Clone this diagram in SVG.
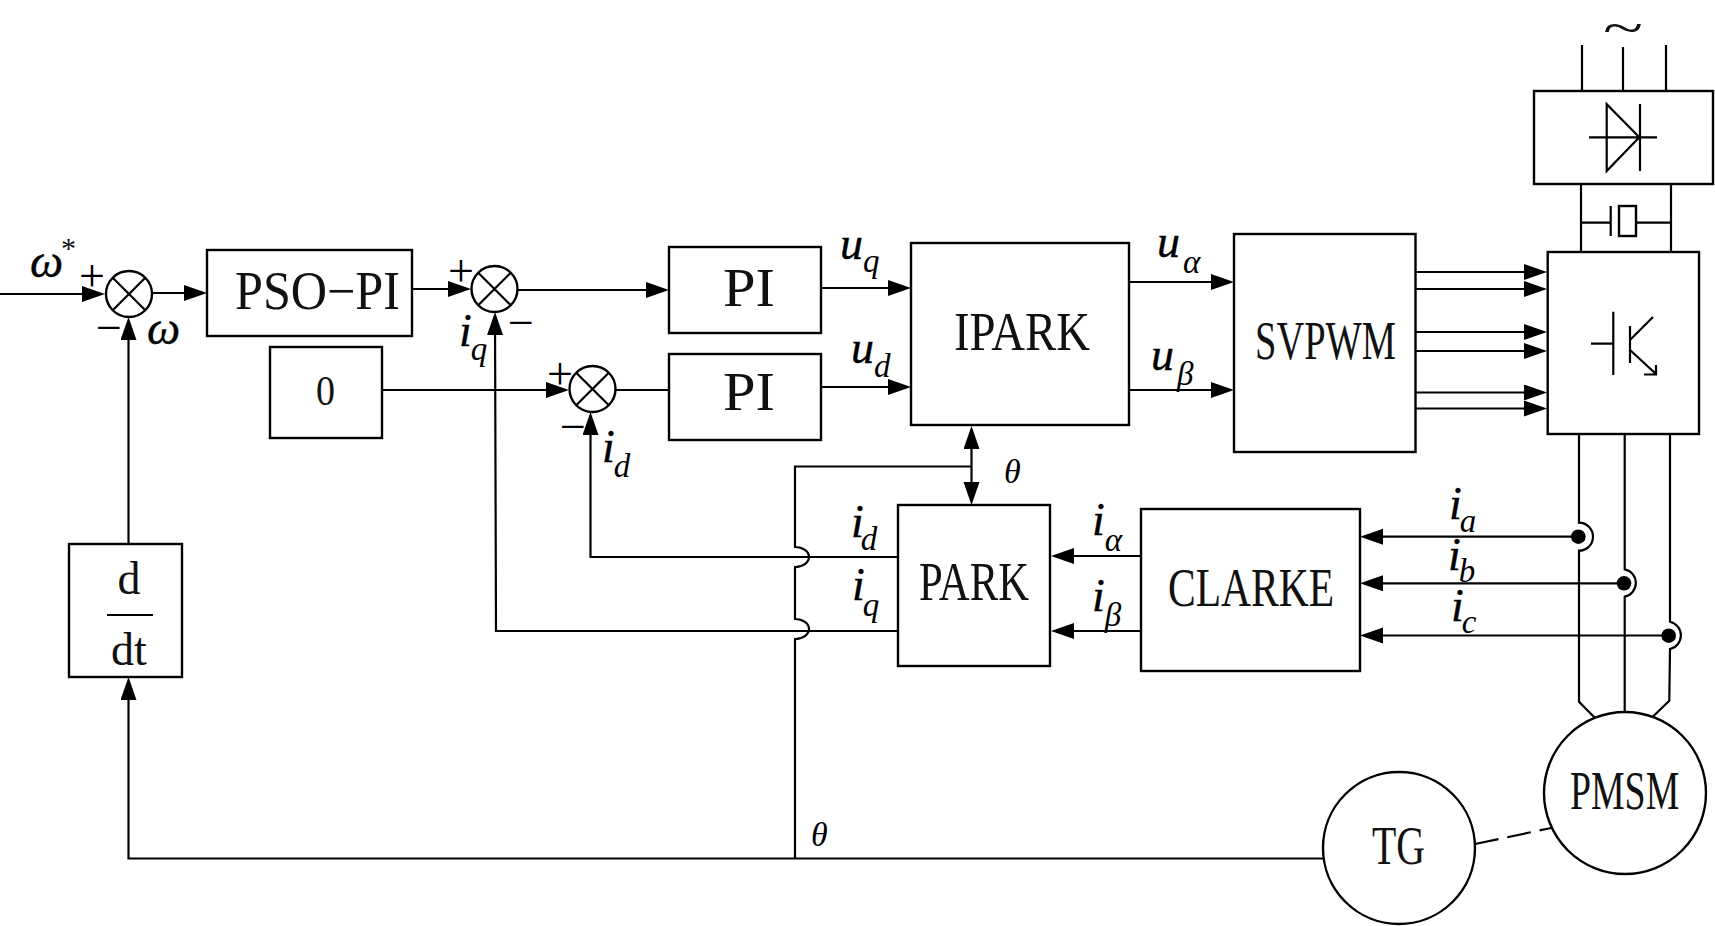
<svg xmlns="http://www.w3.org/2000/svg" width="1715" height="926" viewBox="0 0 1715 926">
<style>
rect,circle,.s{fill:#fff;stroke:#000;stroke-width:2.4}
.l,.l path,.l line,.s{fill:none;stroke:#000;stroke-width:2.2}
.t{font-family:"Liberation Serif",serif;font-size:54px;fill:#111}
.m{font-family:"Liberation Serif",serif;font-style:italic;font-size:46px;fill:#000;stroke:#000;stroke-width:.4}
.m tspan{font-size:33px;stroke-width:0}
.g{font-family:"Liberation Serif",serif;font-style:italic;font-size:34px;fill:#000}
.p{font-family:"Liberation Serif",serif;font-size:46px;fill:#000;text-anchor:middle}
.a{marker-end:url(#ah)}
.d{fill:#000;stroke:none}
</style>
<defs>
<marker id="ah" markerUnits="userSpaceOnUse" markerWidth="24" markerHeight="18" refX="19" refY="8" orient="auto"><path d="M0 0L23 8L0 16Z" fill="#000"/></marker>
</defs>
<g id="connectors" class="l">
<path class="a" d="M0 294H101"/>
<path class="a" d="M152 293H203"/>
<path class="a" d="M412 289H467"/>
<path class="a" d="M517 290H665"/>
<path class="a" d="M382 390H565"/>
<path d="M615 390H669"/>
<path class="a" d="M128.500 544V321"/>
<path class="a" d="M1323 858.500H128.500V681"/>
<path class="a" d="M898 631H496L495 316"/>
<path class="a" d="M898 557H590.500V416"/>
<path d="M795 858.500V639A14 10 0 0 0 795 619V567A14 10 0 0 0 795 547V466.500H971"/>
<path class="a" d="M971.500 466V430"/>
<path class="a" d="M971.500 466V501"/>
<path class="a" d="M821 288H907"/>
<path class="a" d="M821 387H907"/>
<path class="a" d="M1129 282H1230"/>
<path class="a" d="M1129 390H1230"/>
<path class="a" d="M1415 272H1543"/>
<path class="a" d="M1415 289H1543"/>
<path class="a" d="M1415 332H1543"/>
<path class="a" d="M1415 351H1543"/>
<path class="a" d="M1415 392.500H1543"/>
<path class="a" d="M1415 408.500H1543"/>
<path class="a" d="M1141 556H1055"/>
<path class="a" d="M1141 631H1055"/>
<path class="a" d="M1578 536.700H1364"/>
<path class="a" d="M1624 583.300H1364"/>
<path class="a" d="M1669 635.500H1364"/>
<path d="M1582 45V91M1623 47V91M1666 45V91"/>
<path d="M1581 184V252M1671 184V252M1581 222.700H1611M1636 222.700H1671"/>
<path d="M1579 434V522.700A14 14 0 0 1 1579 550.700V701.700L1595 718"/>
<path d="M1624.700 434V569.300A14 14 0 0 1 1624.700 596.700V712"/>
<path d="M1670 434V621.700A14 14 0 0 1 1670 649L1669.300 700.700L1652.700 716.700"/>
<path d="M1475 844L1551 828" stroke-dasharray="24 9"/>
<circle class="d" cx="1578.300" cy="536.700" r="7.300"/>
<circle class="d" cx="1624" cy="583.300" r="7.300"/>
<circle class="d" cx="1668.700" cy="635.700" r="7.300"/>
</g>
<g id="sum1"><circle cx="129" cy="294" r="23"/><path class="s" d="M112.700 277.700L145.300 310.300M145.300 277.700L112.700 310.300"/></g>
<g id="sum2"><circle cx="494.500" cy="289" r="23"/><path class="s" d="M478.200 272.700L510.800 305.300M510.800 272.700L478.200 305.300"/></g>
<g id="sum3"><circle cx="592.500" cy="389" r="23"/><path class="s" d="M576.200 372.700L608.800 405.300M608.800 372.700L576.200 405.300"/></g>
<g id="pso"><rect x="207" y="250" width="205" height="86"/><text class="t" x="235" y="309" textLength="165" lengthAdjust="spacingAndGlyphs">PSO−PI</text></g>
<g id="zero"><rect x="270" y="347" width="112" height="91"/><text class="t" x="316" y="405" style="font-size:42px" textLength="19" lengthAdjust="spacingAndGlyphs">0</text></g>
<g id="pi1"><rect x="669" y="247" width="152" height="86"/><text class="t" x="723" y="306" textLength="52" lengthAdjust="spacingAndGlyphs">PI</text></g>
<g id="pi2"><rect x="669" y="354" width="152" height="86"/><text class="t" x="723" y="410" textLength="52" lengthAdjust="spacingAndGlyphs">PI</text></g>
<g id="ipark"><rect x="911" y="243" width="218" height="182"/><text class="t" x="954" y="350" textLength="136" lengthAdjust="spacingAndGlyphs">IPARK</text></g>
<g id="svpwm"><rect x="1234" y="234" width="181.500" height="218"/><text class="t" x="1255" y="359" textLength="141" lengthAdjust="spacingAndGlyphs">SVPWM</text></g>
<g id="park"><rect x="898" y="505" width="152" height="161"/><text class="t" x="919" y="600" textLength="110" lengthAdjust="spacingAndGlyphs">PARK</text></g>
<g id="clarke"><rect x="1141" y="509" width="219" height="162"/><text class="t" x="1168" y="606" textLength="166" lengthAdjust="spacingAndGlyphs">CLARKE</text></g>
<g id="ddt"><rect x="69" y="544" width="113" height="133"/><text class="t" x="129" y="594" text-anchor="middle" style="font-size:46px">d</text><path class="s" d="M107 615H153"/><text class="t" x="129" y="665" text-anchor="middle" style="font-size:46px">dt</text></g>
<g id="rectifier"><rect x="1534" y="91" width="179" height="93"/><path class="s" d="M1606.700 104.300V171L1639.300 137.300ZM1640 104V171M1589 137.300H1657"/></g>
<g id="capacitor"><rect x="1619" y="206" width="17" height="30"/><path class="s" d="M1610.700 206V236"/></g>
<g id="inverter"><rect x="1547.700" y="252" width="151.300" height="182"/><path class="s" d="M1591 343.700H1613.300M1613.300 311.700V375M1630 326V363M1630 340L1653 317M1630 350L1656 374M1644 374.500H1656V365"/></g>
<g id="pmsm"><circle cx="1625" cy="793" r="81"/><text class="t" transform="translate(1570 809) scale(.7 1)">PMSM</text></g>
<g id="tg"><circle cx="1399" cy="848" r="76"/><text class="t" x="1372" y="864" textLength="53" lengthAdjust="spacingAndGlyphs">TG</text></g>
<g id="labels">
<text class="t" x="1603" y="44" textLength="40" lengthAdjust="spacingAndGlyphs" style="font-size:48px">~</text>
<text class="m" x="30" y="277" style="font-size:47px">ω</text>
<text class="t" x="61" y="258" style="font-size:30px">*</text>
<text class="m" x="147" y="344" style="font-size:47px">ω</text>
<text class="p" x="92" y="291">+</text><text class="p" x="109" y="343">−</text>
<text class="p" x="461" y="286">+</text><text class="p" x="521" y="338">−</text>
<text class="p" x="560" y="389">+</text><text class="p" x="573" y="442">−</text>
<text class="m" x="459" y="346"><tspan style="font-size:46px;stroke-width:.4">i</tspan><tspan dx="-1" dy="14">q</tspan></text>
<text class="m" x="602" y="462"><tspan style="font-size:46px;stroke-width:.4">i</tspan><tspan dx="-1" dy="15">d</tspan></text>
<text class="m" x="840" y="259"><tspan style="font-size:46px;stroke-width:.4">u</tspan><tspan dy="13">q</tspan></text>
<text class="m" x="851" y="363"><tspan style="font-size:46px;stroke-width:.4">u</tspan><tspan dy="14">d</tspan></text>
<text class="m" x="1157" y="257"><tspan style="font-size:46px;stroke-width:.4">u</tspan><tspan dx="3" dy="16">α</tspan></text>
<text class="m" x="1151" y="370"><tspan style="font-size:46px;stroke-width:.4">u</tspan><tspan dx="3" dy="15">β</tspan></text>
<text class="g" x="1004" y="483">θ</text>
<text class="g" x="811" y="846">θ</text>
<text class="m" x="851" y="537"><tspan style="font-size:46px;stroke-width:.4">i</tspan><tspan dx="-3" dy="13">d</tspan></text>
<text class="m" x="852" y="600"><tspan style="font-size:46px;stroke-width:.4">i</tspan><tspan dx="-2" dy="16">q</tspan></text>
<text class="m" x="1092" y="535"><tspan style="font-size:46px;stroke-width:.4">i</tspan><tspan dy="16">α</tspan></text>
<text class="m" x="1092" y="611"><tspan style="font-size:46px;stroke-width:.4">i</tspan><tspan dy="15">β</tspan></text>
<text class="m" x="1449" y="519"><tspan style="font-size:46px;stroke-width:.4">i</tspan><tspan dx="-2" dy="13">a</tspan></text>
<text class="m" x="1448" y="570"><tspan style="font-size:46px;stroke-width:.4">i</tspan><tspan dx="-2" dy="12">b</tspan></text>
<text class="m" x="1451" y="621"><tspan style="font-size:46px;stroke-width:.4">i</tspan><tspan dx="-2" dy="12">c</tspan></text>
</g>
</svg>
